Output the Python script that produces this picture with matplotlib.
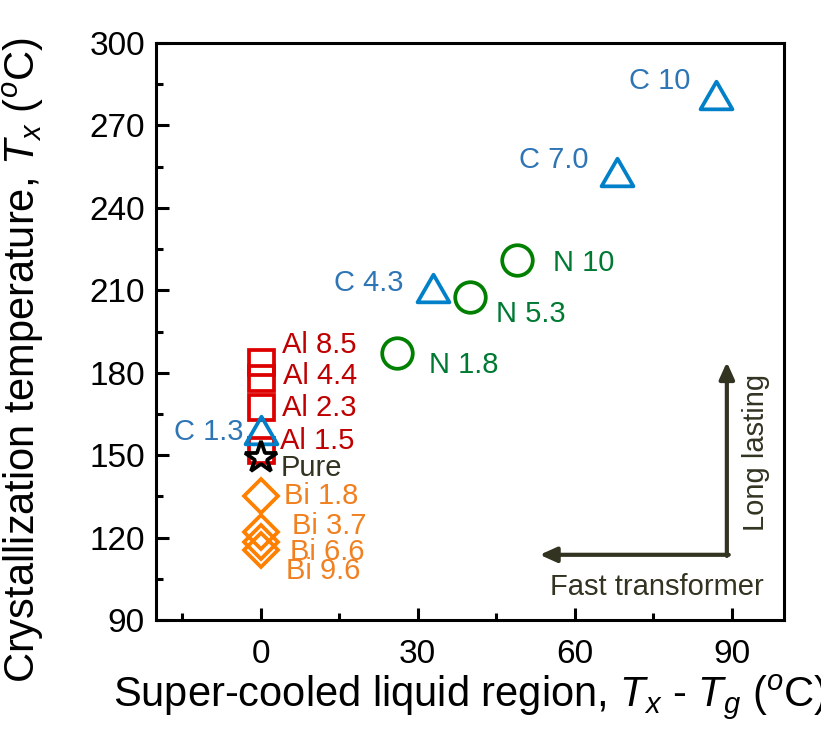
import matplotlib
matplotlib.use("Agg")
import matplotlib.pyplot as plt
from matplotlib.path import Path

plt.rcParams['font.family'] = ['Liberation Sans', 'DejaVu Sans']
plt.rcParams['mathtext.fontset'] = 'custom'
plt.rcParams['mathtext.it'] = 'Liberation Sans:italic'
plt.rcParams['mathtext.rm'] = 'Liberation Sans'

# ---- data ----
c_labels = ["C 1.3", "C 4.3", "C 7.0", "C 10"]
c_x = [0, 33, 68, 87]
c_y = [159, 211, 253, 281]

n_labels = ["N 1.8", "N 5.3", "N 10"]
n_x = [26, 40, 49]
n_y = [187, 207.5, 221]

al_labels = ["Al 1.5", "Al 2.3", "Al 4.4", "Al 8.5"]
al_x = [0, 0, 0, 0]
al_y = [152, 167.5, 178, 184]

pure_label = ["Pure"]
pure_x = [0]
pure_y = [149]

bi_labels = ["Bi 1.8", "Bi 3.7", "Bi 6.6", "Bi 9.6"]
bi_x = [0, 0, 0, 0]
bi_y = [135, 122, 118.5, 115.5]

xticks = [0, 30, 60, 90]
yticks = [90, 120, 150, 180, 210, 240, 270, 300]

# label offsets (pixels) relative to marker centres
c_off = [(-52, 2), (-65, -5), (-63, -12), (-56, -14)]
n_off = [(67, 12), (61, 17), (67, 3)]
al_off = [(57, -9), (59, 1), (59, -2), (59, -17)]
pure_off = [(51, 10)]
bi_off = [(61, 0), (69, -6), (67, 10), (63, 21)]

fig = plt.figure(figsize=(8.21, 7.34), dpi=100)
ax = fig.add_axes([156/821, 1-620/734, 628/821, 577/734])

tri = Path([(-1, -0.866), (1, -0.866), (0, 0.866), (-1, -0.866)],
           [Path.MOVETO, Path.LINETO, Path.LINETO, Path.CLOSEPOLY])

mew = 2.7
ax.plot(al_x, al_y, ls='none', marker='s', ms=18, mfc='none', mec='#DD0000', mew=mew, zorder=3)
ax.plot(bi_x, bi_y, ls='none', marker='D', ms=17, mfc='none', mec='#FF8000', mew=mew, zorder=3)
ax.plot(c_x, c_y, ls='none', marker=tri, ms=23, mfc='none', mec='#0080C8', mew=mew, zorder=4)
ax.plot(n_x, n_y, ls='none', marker='o', ms=22, mfc='none', mec='#008000', mew=mew, zorder=3)
ax.plot(pure_x, pure_y, ls='none', marker='*', ms=24, mfc='none', mec='black', mew=mew, zorder=5)

def label(labels, xs, ys, offs, color):
    for t, x, y, o in zip(labels, xs, ys, offs):
        ax.annotate(t, (x, y), xytext=(o[0], -o[1]), textcoords='offset pixels',
                    ha='center', va='center', fontsize=21, color=color, zorder=6)

label(c_labels, c_x, c_y, c_off, '#2E75B6')
label(n_labels, n_x, n_y, n_off, '#007A33')
label(al_labels, al_x, al_y, al_off, '#C00000')
label(pure_label, pure_x, pure_y, pure_off, '#333322')
label(bi_labels, bi_x, bi_y, bi_off, '#F08020')

arrow_color = '#333322'
ax.annotate('', xy=(0.909, 0.447), xytext=(0.909, 0.111), xycoords='axes fraction',
            arrowprops=dict(arrowstyle='-|>,head_length=1.0,head_width=0.45', color=arrow_color, lw=3,
                            shrinkA=0, shrinkB=0))
ax.annotate('', xy=(0.611, 0.113), xytext=(0.912, 0.113), xycoords='axes fraction',
            arrowprops=dict(arrowstyle='-|>,head_length=1.0,head_width=0.45', color=arrow_color, lw=3,
                            shrinkA=0, shrinkB=0))
ax.text(0.955, 0.29, 'Long lasting', transform=ax.transAxes, rotation=90, ha='center', va='center',
        fontsize=21, color=arrow_color)
ax.text(0.797, 0.057, 'Fast transformer', transform=ax.transAxes, ha='center', va='center',
        fontsize=21, color=arrow_color)

ax.set_xlim(-20, 100)
ax.set_ylim(90, 300)
ax.set_xticks(xticks)
ax.set_yticks(yticks)
ax.set_xticks([-15, 15, 45, 75], minor=True)
ax.set_yticks([105, 135, 165, 195, 225, 255, 285], minor=True)
ax.tick_params(which='both', direction='in', top=False, right=False, width=2.2, labelsize=24)
ax.tick_params(which='major', length=9)
ax.tick_params(which='minor', length=5)
ax.tick_params(axis='x', pad=14)
ax.tick_params(axis='y', pad=8)
for s in ax.spines.values():
    s.set_linewidth(2.2)

ax.set_xlabel(r'Super-cooled liquid region, $\it{T}_x$ - $\it{T}_g$ ($^o$C)', fontsize=30, labelpad=0)
ax.set_ylabel(r'Crystallization temperature, $\it{T}_x$ ($^o$C)', fontsize=30, labelpad=4)
ax.xaxis.set_label_coords(0.5, -0.09)
ax.yaxis.set_label_coords(-0.175, 0.45)

fig.savefig('out.png', dpi=100)
